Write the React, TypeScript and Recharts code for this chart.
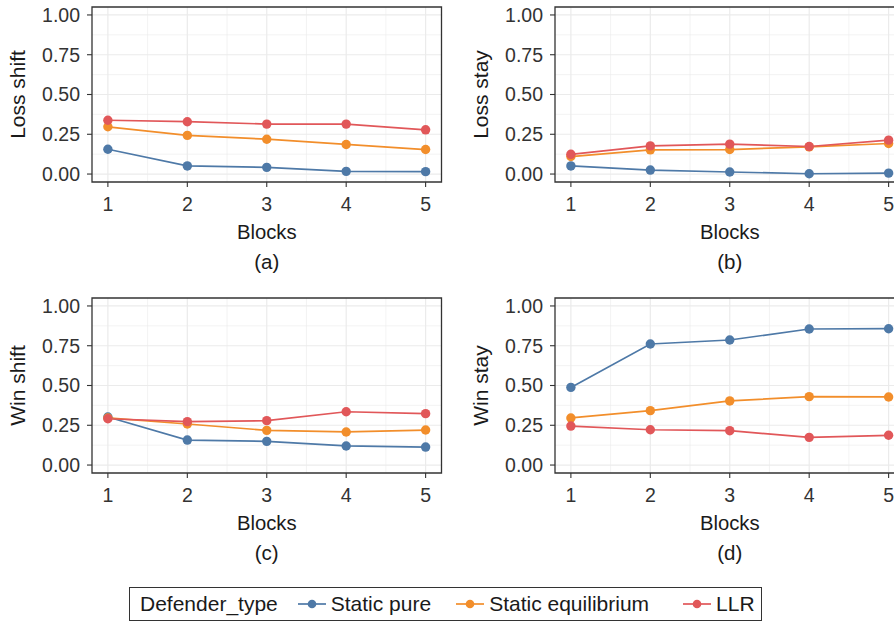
import React from 'react';
import { LineChart, Line, XAxis, YAxis, CartesianGrid, ReferenceArea, Label } from 'recharts';

// ---- data ----
const blocks = [1, 2, 3, 4, 5];
const seriesKeys = ['pure', 'equilibrium', 'llr'];
const seriesNames = ['Static pure', 'Static equilibrium', 'LLR'];
const seriesColors = ['#4E79A7', '#F28E2B', '#E15759'];
const legendTitle = 'Defender_type';
const xTicks = [1, 2, 3, 4, 5];
const xMinor = [1.5, 2.5, 3.5, 4.5];
const yTicks = [0, 0.25, 0.5, 0.75, 1];
const yMinor = [0.125, 0.375, 0.625, 0.875];
const xTitle = 'Blocks';

const lossShiftPure = [0.156, 0.051, 0.042, 0.017, 0.015];
const lossShiftEq = [0.297, 0.243, 0.219, 0.186, 0.154];
const lossShiftLLR = [0.338, 0.329, 0.314, 0.314, 0.278];

const lossStayPure = [0.051, 0.025, 0.013, 0.002, 0.006];
const lossStayEq = [0.11, 0.152, 0.154, 0.171, 0.192];
const lossStayLLR = [0.124, 0.177, 0.188, 0.173, 0.213];

const winShiftPure = [0.302, 0.157, 0.149, 0.12, 0.113];
const winShiftEq = [0.296, 0.258, 0.218, 0.208, 0.22];
const winShiftLLR = [0.291, 0.273, 0.279, 0.335, 0.323];

const winStayPure = [0.488, 0.761, 0.786, 0.855, 0.857];
const winStayEq = [0.296, 0.342, 0.403, 0.43, 0.428];
const winStayLLR = [0.245, 0.222, 0.216, 0.174, 0.187];

const panelTitles = ['Loss shift', 'Loss stay', 'Win shift', 'Win stay'];
const panelCaptions = ['(a)', '(b)', '(c)', '(d)'];
const panelSeries = [
  [lossShiftPure, lossShiftEq, lossShiftLLR],
  [lossStayPure, lossStayEq, lossStayLLR],
  [winShiftPure, winShiftEq, winShiftLLR],
  [winStayPure, winStayEq, winStayLLR],
];

// ---- layout / style ----
const FONT = '"Liberation Sans", Arial, Helvetica, sans-serif';
const PANEL_W = 450;
const PANEL_H = 280;
const panelPos = [
  { left: 0, top: 0 },
  { left: 463, top: 0 },
  { left: 0, top: 291 },
  { left: 463, top: 291 },
];

function buildRows(series: number[][]) {
  return blocks.map((b, i) => {
    const row: Record<string, number> = { block: b };
    seriesKeys.forEach((k, s) => {
      row[k] = series[s][i];
    });
    return row;
  });
}

function YTitle(props: any) {
  const vb = props.viewBox || {};
  const x = (vb.x || 0) + 24.5;
  const y = (vb.y || 0) + (vb.height || 0) / 2;
  return (
    <text
      x={x}
      y={y}
      transform={`rotate(-90, ${x}, ${y})`}
      textAnchor="middle"
      fontSize={21}
      fontFamily={FONT}
      fill="#1a1a1a"
    >
      {props.title}
    </text>
  );
}

function XTitle(props: any) {
  const vb = props.viewBox || {};
  const cx = (vb.x || 0) + (vb.width || 0) / 2;
  const y0 = vb.y || 0;
  return (
    <g>
      <text x={cx} y={y0 + 57.3} textAnchor="middle" fontSize={20.3} fontFamily={FONT} fill="#1a1a1a">
        {xTitle}
      </text>
      <text x={cx} y={y0 + 86.5} textAnchor="middle" fontSize={20.5} fontFamily={FONT} fill="#1a1a1a">
        {props.caption}
      </text>
    </g>
  );
}

function Panel({ idx }: { idx: number }) {
  const rows = buildRows(panelSeries[idx]);
  const pos = panelPos[idx];
  return (
    <div style={{ position: 'absolute', left: pos.left, top: pos.top, width: PANEL_W, height: PANEL_H }}>
      <LineChart width={PANEL_W} height={PANEL_H} data={rows} margin={{ top: 7, right: 8.5, left: 0, bottom: 0 }}>
        <CartesianGrid
          horizontalValues={yMinor}
          verticalValues={xMinor}
          stroke="#EBEBEB"
          strokeWidth={0.6}
        />
        <CartesianGrid
          horizontalValues={yTicks}
          verticalValues={xTicks}
          stroke="#EBEBEB"
          strokeWidth={1.2}
        />
        <XAxis
          dataKey="block"
          type="number"
          domain={[0.8, 5.2]}
          ticks={xTicks}
          allowDataOverflow
          height={98}
          axisLine={false}
          tickLine={{ stroke: '#333', strokeWidth: 1.1 }}
          tickSize={5}
          tickMargin={10}
          tick={{ fontSize: 19.5, fill: '#333', fontFamily: FONT }}
        >
          <Label content={<XTitle caption={panelCaptions[idx]} />} />
        </XAxis>
        <YAxis
          type="number"
          domain={[-0.05, 1.05]}
          ticks={yTicks}
          allowDataOverflow
          width={92}
          axisLine={false}
          tickLine={{ stroke: '#333', strokeWidth: 1.1 }}
          tickSize={5}
          tickMargin={7}
          tickFormatter={(v: number) => v.toFixed(2)}
          tick={{ fontSize: 19.5, fill: '#333', fontFamily: FONT }}
        >
          <Label content={<YTitle title={panelTitles[idx]} />} />
        </YAxis>
        <ReferenceArea
          x1={0.8}
          x2={5.2}
          y1={-0.05}
          y2={1.05}
          fill="none"
          fillOpacity={0}
          stroke="#333"
          strokeWidth={1.3}
          ifOverflow="visible"
        />
        {seriesKeys.map((k, s) => (
          <Line
            key={k}
            type="linear"
            dataKey={k}
            name={seriesNames[s]}
            stroke={seriesColors[s]}
            strokeWidth={1.7}
            dot={{ r: 4.7, fill: seriesColors[s], stroke: 'none', strokeWidth: 0 }}
            activeDot={false}
            isAnimationActive={false}
          />
        ))}
      </LineChart>
    </div>
  );
}

function LegendIcon({ color }: { color: string }) {
  return (
    <svg width={28} height={14} style={{ display: 'block' }}>
      <line x1={0} y1={7} x2={28} y2={7} stroke={color} strokeWidth={1.7} />
      <circle cx={14} cy={7} r={4.3} fill={color} />
    </svg>
  );
}

export default function App() {
  return (
    <div
      style={{
        position: 'fixed',
        left: 0,
        top: 0,
        width: 894,
        height: 621,
        overflow: 'hidden',
        background: '#fff',
        fontFamily: FONT,
      }}
    >
      {panelTitles.map((_, i) => (
        <Panel key={i} idx={i} />
      ))}
      <div
        style={{
          position: 'absolute',
          left: 129,
          top: 587,
          width: 633,
          height: 34,
          boxSizing: 'border-box',
          border: '1.2px solid #333',
          display: 'flex',
          alignItems: 'center',
          paddingLeft: 10,
          fontSize: 21,
          color: '#1a1a1a',
          whiteSpace: 'nowrap',
        }}
      >
        <span style={{ marginRight: 20 }}>{legendTitle}</span>
        {seriesNames.map((n, s) => (
          <div key={n} style={{ display: 'flex', alignItems: 'center', marginRight: s === 0 ? 25 : 34 }}>
            <LegendIcon color={seriesColors[s]} />
            <span style={{ marginLeft: 5 }}>{n}</span>
          </div>
        ))}
      </div>
    </div>
  );
}
